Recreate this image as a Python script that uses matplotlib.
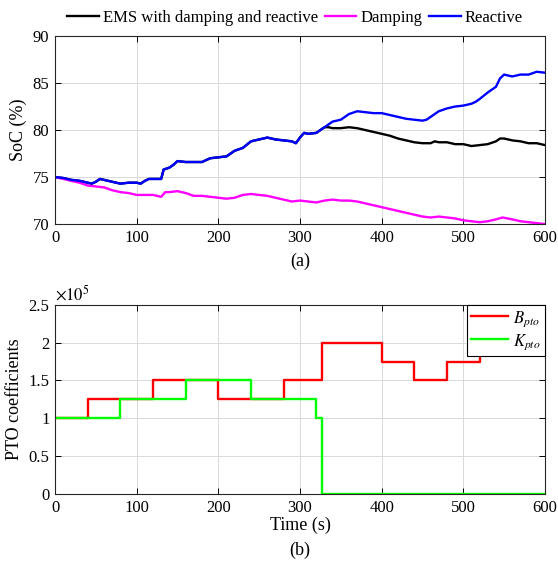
import numpy as np
import matplotlib
matplotlib.use('Agg')
import matplotlib.pyplot as plt
from matplotlib.ticker import FuncFormatter

plt.rcParams['font.family'] = ['Liberation Serif', 'DejaVu Serif']
plt.rcParams['mathtext.fontset'] = 'stix'

# SoC traces (%)
t_rea = [0, 10, 20, 30, 40, 45, 50, 55, 60, 70, 80, 90, 100, 105, 110, 115, 120, 130,
         133, 140, 145, 150, 160, 170, 180, 190, 200, 210, 215, 220, 230, 240, 250, 260,
         270, 280, 290, 295, 300, 305, 310, 320, 330, 340, 350, 360, 370, 380, 390, 400,
         410, 420, 430, 440, 450, 455, 460, 470, 480, 490, 500, 510, 515, 520, 530, 540,
         545, 550, 560, 570, 580, 590, 600]
soc_rea = [75.0, 74.9, 74.7, 74.6, 74.4, 74.3, 74.5, 74.8, 74.7, 74.5, 74.3, 74.4, 74.4,
           74.3, 74.6, 74.8, 74.8, 74.8, 75.8, 76.0, 76.3, 76.7, 76.6, 76.6, 76.6, 77.0,
           77.1, 77.2, 77.5, 77.8, 78.1, 78.8, 79.0, 79.2, 79.0, 78.9, 78.8, 78.6, 79.2,
           79.7, 79.6, 79.7, 80.3, 80.9, 81.1, 81.7, 82.0, 81.9, 81.8, 81.8, 81.6, 81.4,
           81.2, 81.1, 81.0, 81.1, 81.4, 82.0, 82.3, 82.5, 82.6, 82.8, 83.0, 83.3, 84.0,
           84.6, 85.5, 85.9, 85.7, 85.9, 85.9, 86.2, 86.1]

# EMS follows the reactive trace until K_pto drops to zero (~327 s)
t_ems_tail = [330, 335, 340, 350, 360, 370, 380, 390, 400, 410, 420, 430, 440, 450, 460,
              465, 470, 480, 490, 500, 510, 520, 530, 540, 545, 550, 560, 570, 580, 590, 600]
soc_ems_tail = [80.3, 80.3, 80.2, 80.2, 80.3, 80.2, 80.0, 79.8, 79.6, 79.4, 79.1, 78.9,
                78.7, 78.6, 78.6, 78.8, 78.7, 78.7, 78.5, 78.5, 78.3, 78.4, 78.5, 78.8,
                79.1, 79.1, 78.9, 78.8, 78.6, 78.6, 78.4]

t_dam = [0, 10, 20, 30, 40, 50, 60, 70, 80, 90, 100, 110, 120, 130, 135, 140, 150, 160,
         170, 180, 190, 200, 210, 220, 230, 240, 250, 260, 270, 280, 290, 300, 310, 320,
         330, 340, 350, 360, 370, 380, 390, 400, 410, 420, 430, 440, 450, 460, 470, 480,
         490, 500, 510, 520, 530, 540, 548, 560, 570, 580, 590, 600]
soc_dam = [75.0, 74.8, 74.6, 74.4, 74.1, 74.0, 73.9, 73.6, 73.4, 73.3, 73.1, 73.1, 73.1,
           72.9, 73.4, 73.4, 73.5, 73.3, 73.0, 73.0, 72.9, 72.8, 72.7, 72.8, 73.1, 73.2,
           73.1, 73.0, 72.8, 72.6, 72.4, 72.5, 72.4, 72.3, 72.5, 72.6, 72.5, 72.5, 72.4,
           72.2, 72.0, 71.8, 71.6, 71.4, 71.2, 71.0, 70.8, 70.7, 70.8, 70.7, 70.6, 70.4,
           70.3, 70.2, 70.3, 70.5, 70.7, 70.5, 70.3, 70.2, 70.1, 70.0]

# PTO coefficients (step changes)
t_b = [0, 40, 120, 200, 280, 327, 400, 440, 480, 520, 600]
b_pto = [1.0e5, 1.25e5, 1.5e5, 1.25e5, 1.5e5, 2.0e5, 1.75e5, 1.5e5, 1.75e5, 2.0e5, 2.0e5]
t_k = [0, 80, 160, 240, 320, 327, 600]
k_pto = [1.0e5, 1.25e5, 1.5e5, 1.25e5, 1.0e5, 0.0, 0.0]

# EMS = reactive before switch
t_ems = [t for t in t_rea if t < 330] + t_ems_tail
soc_ems = [s for t, s in zip(t_rea, soc_rea) if t < 330] + soc_ems_tail

fig = plt.figure(figsize=(5.58, 5.63), dpi=100)
ax1 = fig.add_axes([0.0986, 0.602, 0.878, 0.334])
ax2 = fig.add_axes([0.0986, 0.1226, 0.878, 0.336])

ax1.plot(t_ems, soc_ems, color='black', lw=1.7, label='EMS with damping and reactive')
ax1.plot(t_dam, soc_dam, color='#ff00ff', lw=1.7, label='Damping')
ax1.plot(t_rea, soc_rea, color='#0000ff', lw=1.7, label='Reactive')
ax1.set_xlim(0, 600)
ax1.set_ylim(70, 90)
ax1.set_yticks([70, 75, 80, 85, 90])
ax1.set_xticks(np.arange(0, 601, 100))
ax1.set_ylabel('SoC (%)', fontsize=13)
ax1.legend(loc='lower center', bbox_to_anchor=(0.49, 1.01), ncol=3, frameon=False,
           fontsize=12, handlelength=1.9, handletextpad=0.25, columnspacing=0.4,
           borderaxespad=0.1)
ax1.text(0.5, -0.2, '(a)', transform=ax1.transAxes, ha='center', va='center', fontsize=13)

ax2.step(t_b, b_pto, where='post', color='#ff0000', lw=1.7, label='$B_{pto}$')
ax2.step(t_k, k_pto, where='post', color='#00ff00', lw=1.7, label='$K_{pto}$')
ax2.set_xlim(0, 600)
ax2.set_ylim(0, 2.5e5)
ax2.set_yticks(np.arange(0, 2.51e5, 0.5e5))
ax2.set_xticks(np.arange(0, 601, 100))
ax2.yaxis.set_major_formatter(FuncFormatter(lambda v, p: '%g' % (v / 1e5)))
ax2.text(0.0, 1.005, r'$\times10^5$', transform=ax2.transAxes, ha='left', va='bottom',
         fontsize=12)
ax2.set_ylabel('PTO coefficients', fontsize=13)
ax2.set_xlabel('Time (s)', fontsize=13, labelpad=1)
leg = ax2.legend(loc='upper right', fontsize=12, fancybox=False, framealpha=1,
                 edgecolor='black', borderaxespad=0.0, handlelength=2.2,
                 handletextpad=0.3, borderpad=0.25, labelspacing=0.2)
leg.get_frame().set_linewidth(0.8)
ax2.text(0.5, -0.3, '(b)', transform=ax2.transAxes, ha='center', va='center', fontsize=13)

for ax in (ax1, ax2):
    ax.grid(True, color='#d9d9d9', lw=0.7)
    ax.set_axisbelow(True)
    ax.tick_params(direction='in', top=True, right=True, labelsize=12, length=4,
                   width=0.7, pad=4)
    for s in ax.spines.values():
        s.set_linewidth(0.8)
        s.set_color('#262626')

fig.savefig('out.png', dpi=100)
